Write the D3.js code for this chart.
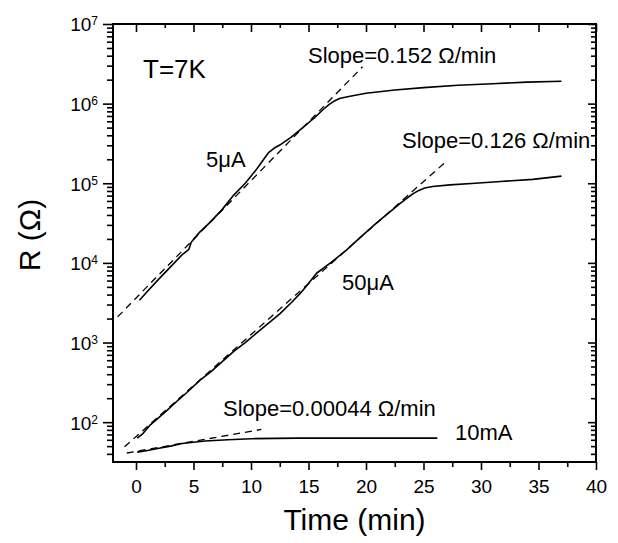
<!DOCTYPE html>
<html>
<head>
<meta charset="utf-8">
<script src="https://cdn.jsdelivr.net/npm/d3@7"></script>
<style>
  body { margin: 0; background: #fff; }
  svg { font-family: "Liberation Sans", Arial, sans-serif; }
</style>
</head>
<body>
<div class="canvas"></div>
<script>
// data (time in min, R in ohm)
const t5uA = [0.3, 1.0, 2.0, 3.0, 4.0, 4.6, 4.8, 5.5, 6.5, 7.5, 8.5, 9.5, 10.5, 11.0, 11.5, 12.0, 12.5, 13.5, 14.5, 15.5, 16.3, 16.8, 17.2, 17.7, 18.5, 20, 22.5, 25, 28, 31, 34, 37]
const r5uA = [3400, 4400, 6300, 8900, 12600, 14800, 18200, 24000, 33000, 47000, 71000, 100000, 151000, 190000, 240000, 275000, 302000, 380000, 500000, 660000, 850000, 977000, 1070000, 1160000, 1230000, 1350000, 1480000, 1590000, 1700000, 1780000, 1860000, 1910000]

const t50uA = [0.1, 0.6, 1.2, 2.0, 2.7, 3.7, 4.4, 5.6, 6.5, 7.5, 8.5, 9.5, 10.5, 11.5, 12.5, 13.5, 14.3, 15.0, 15.7, 17.0, 18.3, 19.5, 20.9, 22.0, 23.0, 24.0, 24.6, 25.1, 25.8, 27.3, 29.5, 31.7, 34.5, 37.0]
const r50uA = [63, 72, 91, 115, 141, 191, 234, 339, 427, 575, 776, 1000, 1320, 1740, 2290, 3160, 4170, 5500, 7410, 10200, 14500, 20900, 31600, 42700, 56200, 72400, 81300, 87100, 91200, 95500, 100000, 105000, 112000, 123000]

const t10mA = [0.1, 1, 2, 3, 4, 5, 6, 8, 10, 14, 20, 26.2]
const r10mA = [42, 44, 47, 50, 54, 56, 58, 60, 62, 63, 63, 63]

// fitted slope lines (end points)
const fitT5uA = [-1.6, 19.7]
const fitR5uA = [2100, 2900000]
const fitT50uA = [-1.0, 27.1]
const fitR50uA = [49, 195000]
const fitT10mA = [-0.8, 10.9]
const fitR10mA = [41, 81]

const xMajor = [0, 5, 10, 15, 20, 25, 30, 35, 40]
const xMinor = [-2.5, 2.5, 7.5, 12.5, 17.5, 22.5, 27.5, 32.5, 37.5]
const yMajor = [1e2, 1e3, 1e4, 1e5, 1e6, 1e7]

const width = 618
const height = 543
const margin = { top: 24, right: 22, bottom: 81, left: 113 }

const svg = d3.select('.canvas')
    .append('svg')
    .attr('width', width)
    .attr('height', height)

const x = d3.scaleLinear().domain([-2, 40]).range([margin.left, width - margin.right])
const y = d3.scaleLog().domain([31.6, 1e7]).range([height - margin.bottom, margin.top])

// minor ticks on log axis: 2..9 x 10^n
const yMinor = []
for (let e = 1; e < 7; e++) {
    for (let k = 2; k <= 9; k++) {
        const v = k * Math.pow(10, e)
        if (v >= 31.6 && v <= 1e7) yMinor.push(v)
    }
}

const xMinorIn = xMinor.filter(d => d > -2 && d < 40)
const x0 = x.range()[0], x1 = x.range()[1]
const y0 = y.range()[0], y1 = y.range()[1]

function styleAxis(g) {
    g.select('.domain').remove()
    g.selectAll('line').attr('stroke', '#000').attr('stroke-width', 1.6)
}

// bottom (outward ticks)
svg.append('g').attr('transform', `translate(0,${y0})`)
    .call(d3.axisBottom(x).tickValues(xMinorIn).tickSize(5).tickFormat(''))
    .call(styleAxis)
const xAxisG = svg.append('g').attr('transform', `translate(0,${y0})`)
    .call(d3.axisBottom(x).tickValues(xMajor).tickSize(8).tickPadding(10))
    .call(styleAxis)
xAxisG.selectAll('text')
    .attr('font-size', 19)
    .attr('font-family', '"Liberation Sans", Arial, sans-serif')
    .attr('fill', '#000')

// top (inward ticks)
svg.append('g').attr('transform', `translate(0,${y1})`)
    .call(d3.axisBottom(x).tickValues(xMajor).tickSize(8).tickFormat(''))
    .call(styleAxis)
svg.append('g').attr('transform', `translate(0,${y1})`)
    .call(d3.axisBottom(x).tickValues(xMinorIn).tickSize(4).tickFormat(''))
    .call(styleAxis)

// left (outward ticks)
svg.append('g').attr('transform', `translate(${x0},0)`)
    .call(d3.axisLeft(y).tickValues(yMinor).tickSize(6).tickFormat(''))
    .call(styleAxis)
const yAxisG = svg.append('g').attr('transform', `translate(${x0},0)`)
    .call(d3.axisLeft(y).tickValues(yMajor).tickSize(10).tickPadding(5).tickFormat(''))
    .call(styleAxis)
yAxisG.selectAll('.tick text').each(function(d) {
    const t = d3.select(this)
        .attr('font-size', 19)
        .attr('font-family', '"Liberation Sans", Arial, sans-serif')
        .attr('fill', '#000')
        .attr('dy', '0.36em')
    t.text(null)
    t.append('tspan').text('10')
    t.append('tspan').attr('dy', -6).attr('font-size', 12).text(Math.round(Math.log10(d)))
})

// right (inward ticks)
svg.append('g').attr('transform', `translate(${x1},0)`)
    .call(d3.axisLeft(y).tickValues(yMinor).tickSize(5).tickFormat(''))
    .call(styleAxis)
svg.append('g').attr('transform', `translate(${x1},0)`)
    .call(d3.axisLeft(y).tickValues(yMajor).tickSize(8).tickFormat(''))
    .call(styleAxis)

// frame
svg.append('rect')
    .attr('x', x0).attr('y', y1)
    .attr('width', x1 - x0).attr('height', y0 - y1)
    .attr('fill', 'none')
    .attr('stroke', '#000')
    .attr('stroke-width', 2)

const line = d3.line()
    .x(d => x(d[0]))
    .y(d => y(d[1]))

const zip = (a, b) => a.map((v, i) => [v, b[i]])

const curves = [zip(t5uA, r5uA), zip(t50uA, r50uA), zip(t10mA, r10mA)]
const fits = [zip(fitT5uA, fitR5uA), zip(fitT50uA, fitR50uA), zip(fitT10mA, fitR10mA)]

svg.append('g').selectAll('path')
    .data(fits)
    .enter().append('path')
    .attr('d', line)
    .attr('fill', 'none')
    .attr('stroke', '#000')
    .attr('stroke-width', 1.3)
    .attr('stroke-dasharray', '7,5')

svg.append('g').selectAll('path')
    .data(curves)
    .enter().append('path')
    .attr('d', line)
    .attr('fill', 'none')
    .attr('stroke', '#000')
    .attr('stroke-width', 1.6)
    .attr('stroke-linejoin', 'round')

// annotations
const notes = svg.append('g').attr('fill', '#000')
notes.append('text').attr('x', 143).attr('y', 78).attr('font-size', 26).text('T=7K')
notes.append('text').attr('x', 308).attr('y', 63).attr('font-size', 22).text('Slope=0.152 \u03A9/min')
notes.append('text').attr('x', 402).attr('y', 148).attr('font-size', 22).text('Slope=0.126 \u03A9/min')
notes.append('text').attr('x', 223).attr('y', 416).attr('font-size', 22).text('Slope=0.00044 \u03A9/min')
notes.append('text').attr('x', 206).attr('y', 167).attr('font-size', 22).text('5\u03BCA')
notes.append('text').attr('x', 342).attr('y', 290).attr('font-size', 22).text('50\u03BCA')
notes.append('text').attr('x', 455).attr('y', 440).attr('font-size', 22).text('10mA')

// axis titles
svg.append('text')
    .attr('x', (x0 + x1) / 2).attr('y', 530)
    .attr('text-anchor', 'middle')
    .attr('font-size', 30)
    .text('Time (min)')
svg.append('text')
    .attr('transform', 'translate(40,235) rotate(-90)')
    .attr('text-anchor', 'middle')
    .attr('font-size', 30)
    .text('R (\u03A9)')
</script>
</body>
</html>
